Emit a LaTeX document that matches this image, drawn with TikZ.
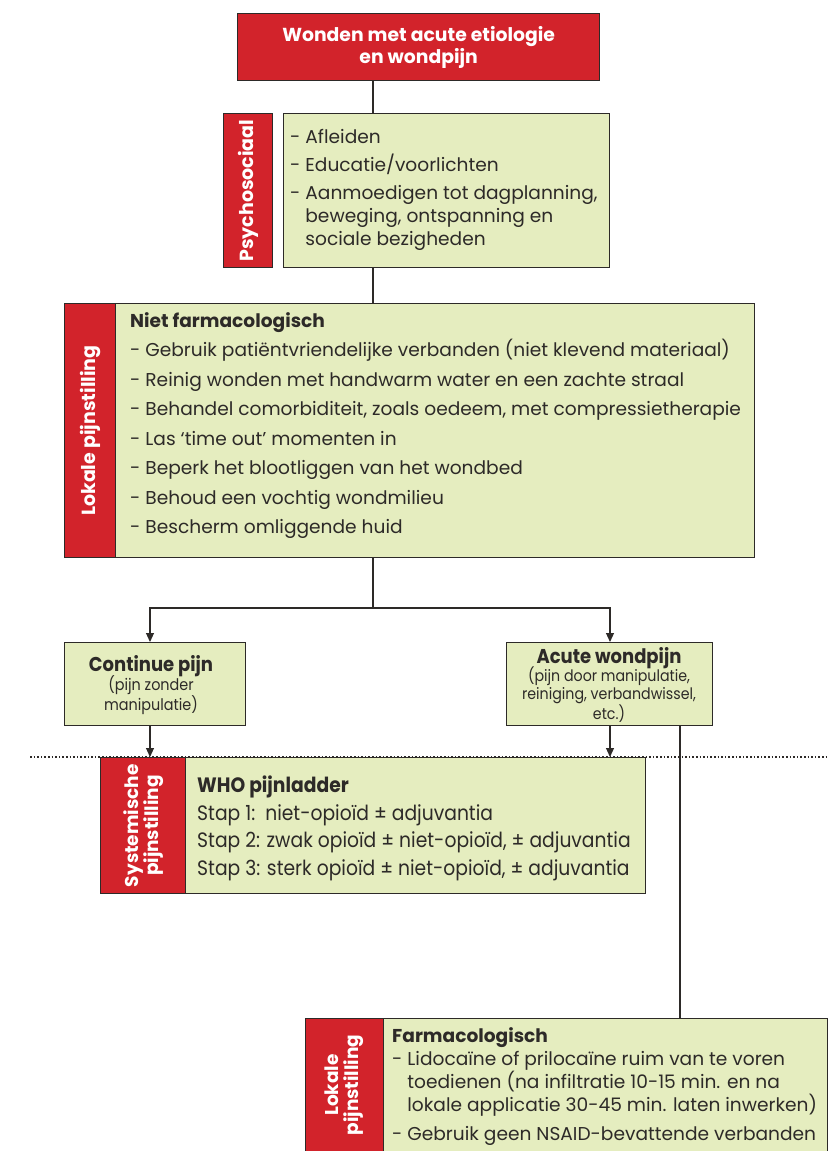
\documentclass[tikz,border=0pt]{standalone}
\usepackage{fontspec}
\setmainfont{Poppins}
\newfontfamily\narrowfont[FakeStretch=0.9]{Poppins}
\usepackage{xcolor}
\usetikzlibrary{positioning,arrows.meta}

\definecolor{wondrood}{RGB}{210,35,43}
\definecolor{wondgroen}{RGB}{229,237,191}
\definecolor{lijn}{RGB}{45,42,40}

\tikzset{
  rood/.style={draw=lijn, fill=wondrood, line width=1.3pt, inner sep=0pt, anchor=north west},
  groen/.style={draw=lijn, fill=wondgroen, line width=1.3pt, inner sep=0pt, anchor=north west},
  wit/.style={text=white, font=\bfseries\fontsize{19}{21}\selectfont, align=center, rotate=90},
  tekst/.style={text=lijn, inner sep=0pt, anchor=north west, align=left, font=\fontsize{18.6}{23}\selectfont},
  pijl/.style={-{Triangle[length=9pt,width=8pt]}, line width=1.1pt, draw=lijn},
  verbinding/.style={line width=1.1pt, draw=lijn}
}

\begin{document}
\begin{tikzpicture}[x=1pt,y=-1pt]
\useasboundingbox (0,0) rectangle (839,1151);
\clip (0,0) rectangle (839,1151);

% stippellijn achter de systemische box
\coordinate (stipL) at (30,757);
\coordinate (stipR) at (826,757);
\draw[dotted, line width=1.6pt, lijn] (stipL) -- (stipR);

% bovenste box
\node[rood, minimum width=362, minimum height=67] (top) at (237,13) {};
\node[text=white, font=\bfseries\fontsize{18.8}{22}\selectfont, align=center] (toptxt) at (top.center) {Wonden met acute etiologie\\en wondpijn};

% psychosociaal
\node[rood, minimum width=49, minimum height=154] (psyR) at (223,113) {};
\node[wit] (psylbl) at (psyR.center) {Psychosociaal};
\node[groen, minimum width=326, minimum height=154] (psyG) at (283,113) {};
\node[tekst] (psytxt) at (290,129) {- Afleiden\\[5pt]
- Educatie/voorlichten\\[5pt]
- Aanmoedigen tot dagplanning,\\
\hphantom{- }beweging, ontspanning en\\
\hphantom{- }sociale bezigheden};

% lokale pijnstilling, niet farmacologisch
\node[rood, minimum width=51, minimum height=254] (lokR) at (64,303) {};
\node[wit] (loklbl) at (lokR.center) {Lokale pijnstilling};
\node[groen, minimum width=639, minimum height=254] (lokG) at (115,303) {};
\node[tekst, font=\fontsize{18.6}{29.5}\selectfont] (loktxt) at (130,312) {\textbf{Niet farmacologisch}\\
- Gebruik patiëntvriendelijke verbanden (niet klevend materiaal)\\
- Reinig wonden met handwarm water en een zachte straal\\
- Behandel comorbiditeit, zoals oedeem, met compressietherapie\\
- Las ‘time out’ momenten in\\
- Beperk het blootliggen van het wondbed\\
- Behoud een vochtig wondmilieu\\
- Bescherm omliggende huid};

% soorten pijn
\node[groen, minimum width=181, minimum height=83] (cont) at (64,642) {};
\node[text=lijn, align=center, inner sep=0pt, font=\narrowfont\fontsize{16}{18}\selectfont] (conttxt) at (151,685) {\fontsize{20}{21}\selectfont\bfseries Continue pijn\\[-2pt]
\fontsize{16}{18}\selectfont\mdseries (pijn zonder\\manipulatie)};
\node[groen, minimum width=206, minimum height=83] (acute) at (506,642) {};
\node[text=lijn, align=center, inner sep=0pt, font=\narrowfont\fontsize{15.8}{17.5}\selectfont] (acutetxt) at (609,685) {\fontsize{20}{21}\selectfont\bfseries Acute wondpijn\\[-3pt]
\fontsize{15.8}{17.5}\selectfont\mdseries (pijn door manipulatie,\\reiniging, verbandwissel,\\etc.)};

% systemische pijnstilling
\node[rood, minimum width=85, minimum height=136] (whoR) at (100,757) {};
\node[wit, font=\bfseries\fontsize{18.5}{20}\selectfont] (wholbl) at (whoR.center) {Systemische\\pijnstilling};
\node[groen, minimum width=460, minimum height=136] (whoG) at (185,757) {};
\node[tekst, font=\narrowfont\fontsize{20.8}{27.5}\selectfont] (whotxt) at (197,776) {\textbf{WHO pijnladder}\\
Stap 1:\ \ niet-opioïd ± adjuvantia\\
Stap 2: zwak opioïd ± niet-opioïd, ± adjuvantia\\
Stap 3: sterk opioïd ± niet-opioïd, ± adjuvantia};

% lokale pijnstilling, farmacologisch
\node[rood, minimum width=78, minimum height=160] (farR) at (305,1018) {};
\node[wit, font=\bfseries\fontsize{18.5}{20}\selectfont] (farlbl) at (344,1085) {Lokale\\pijnstilling};
\node[groen, minimum width=444, minimum height=160] (farG) at (383,1018) {};
\node[tekst] (fartxt) at (392,1027) {\textbf{Farmacologisch}\\
- Lidocaïne of prilocaïne ruim van te voren\\
\hphantom{- }toedienen (na infiltratie 10-15 min. en na\\
\hphantom{- }lokale applicatie 30-45 min. laten inwerken)\\[6pt]
- Gebruik geen NSAID-bevattende verbanden};

% verbindingen
\coordinate (as) at (373,0);
\coordinate (split) at (373,608);
\coordinate (xl) at (150,0);
\coordinate (xr) at (610,0);
\coordinate (xf) at (680,0);
\draw[verbinding] (top.south -| as) -- (psyG.north -| as);
\draw[verbinding] (psyG.south -| as) -- (lokG.north -| as);
\draw[verbinding] (lokG.south -| as) -- (split);
\draw[pijl] (split) -| (cont.north -| xl);
\draw[pijl] (split) -| (acute.north -| xr);
\draw[pijl] (cont.south -| xl) -- (whoR.north -| xl);
\draw[pijl] (acute.south -| xr) -- (whoG.north -| xr);
\draw[verbinding] (acute.south -| xf) -- (farG.north -| xf);
\end{tikzpicture}
\end{document}
